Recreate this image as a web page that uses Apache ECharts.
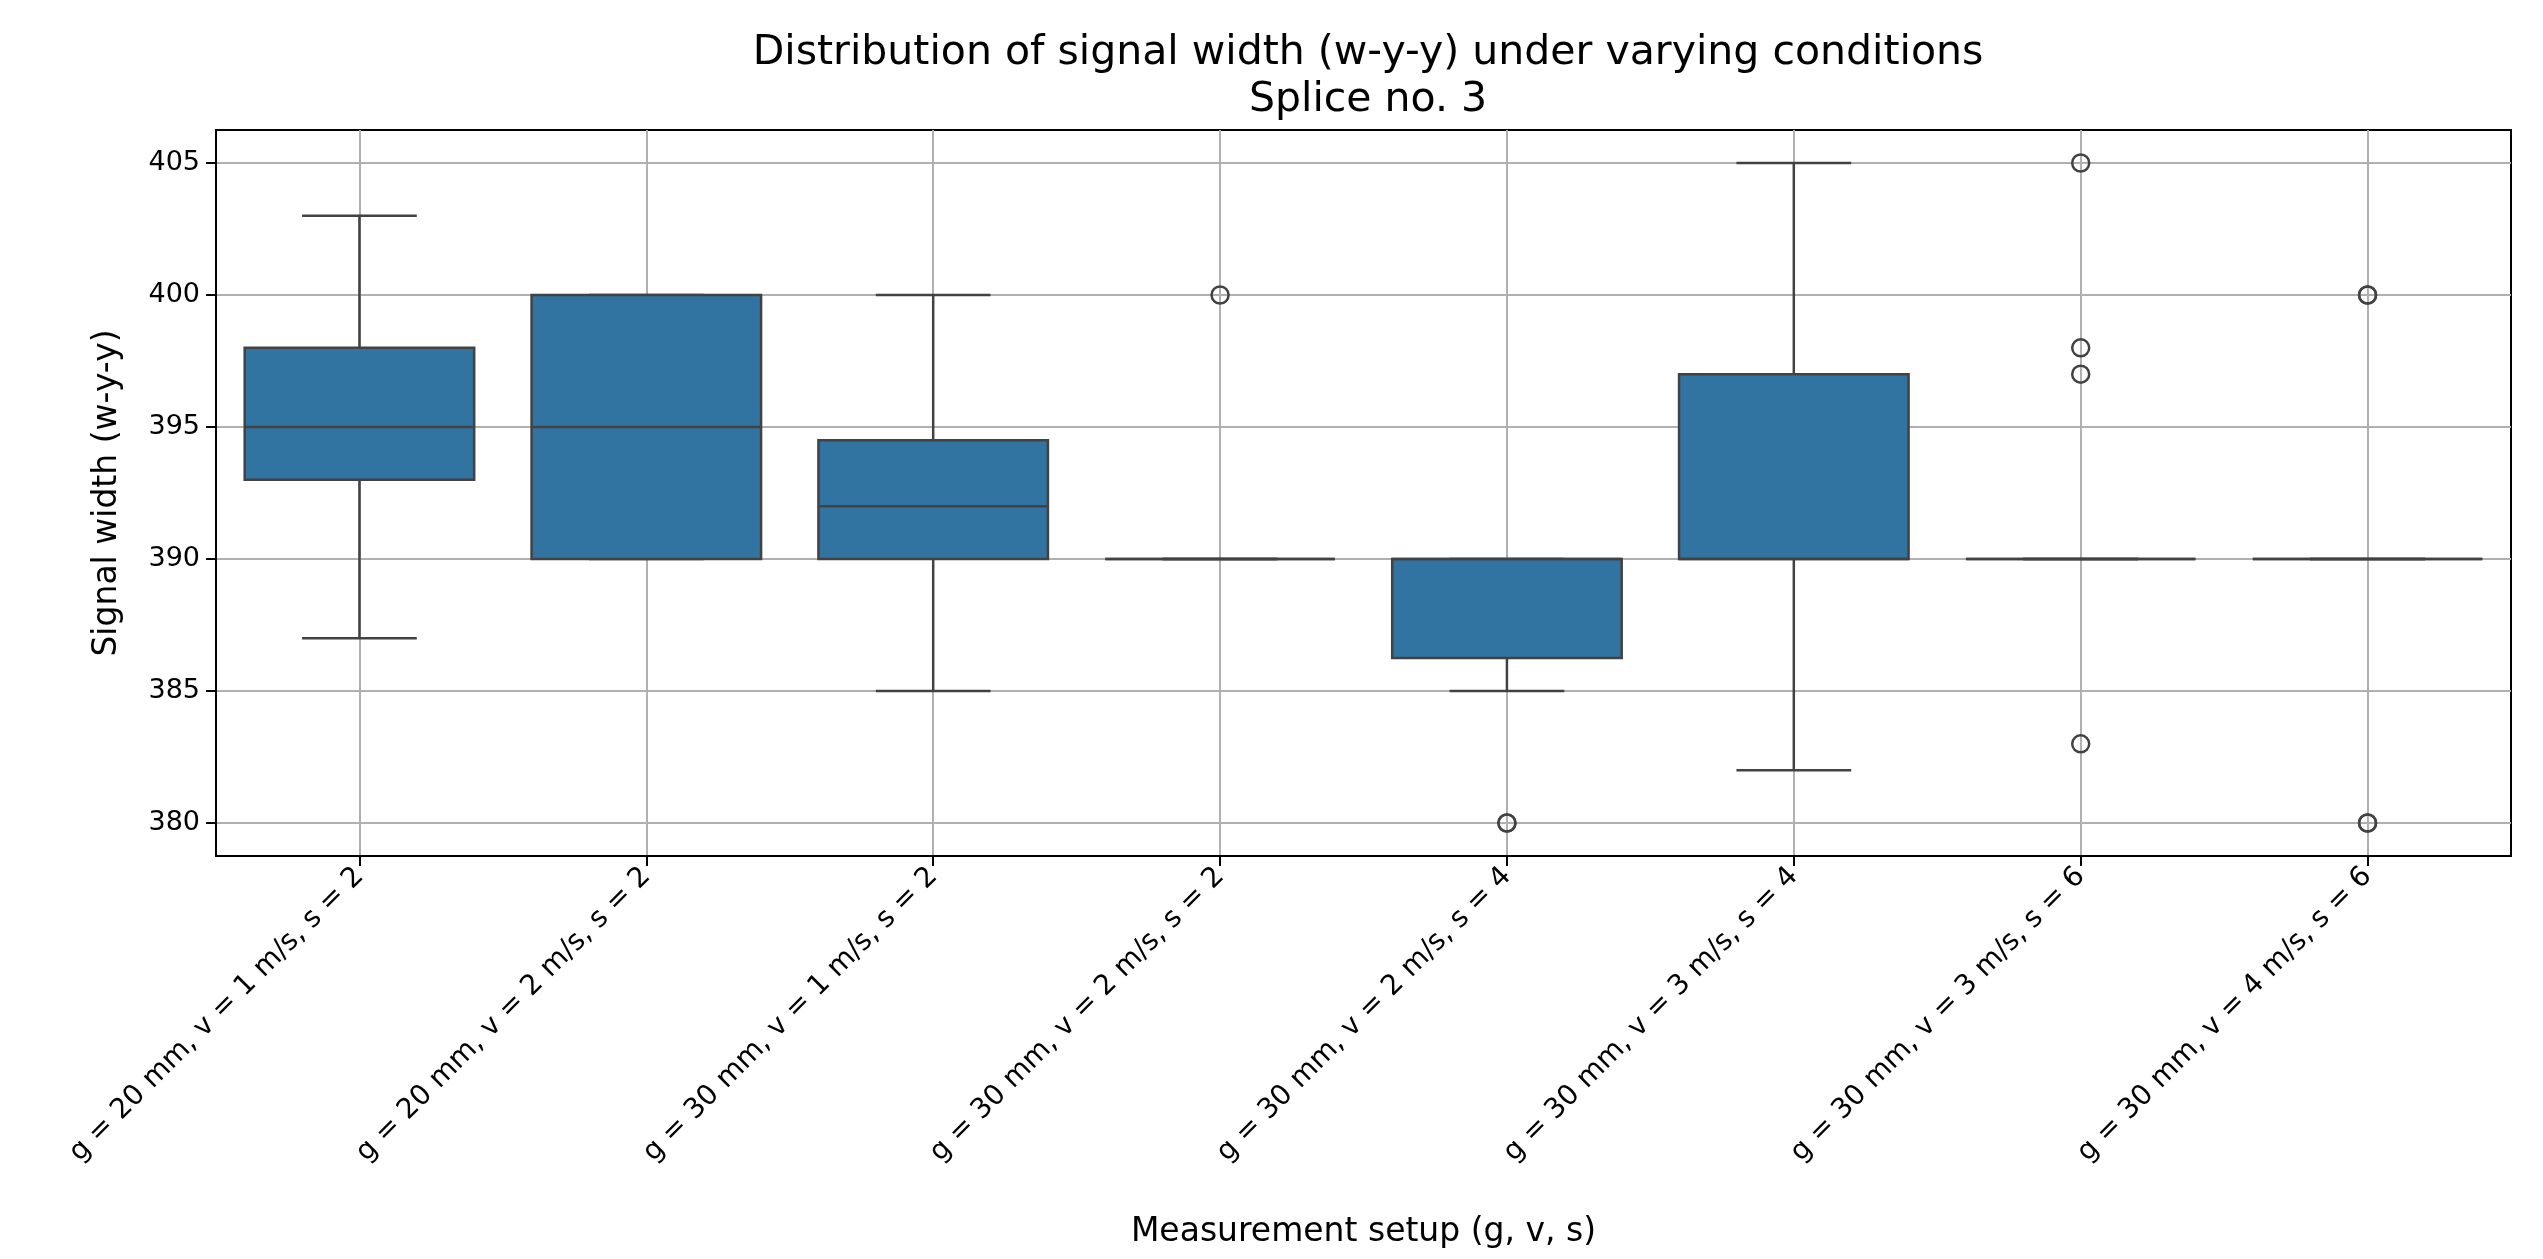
<!DOCTYPE html>
<html><head><meta charset="utf-8">
<script src="https://cdn.jsdelivr.net/npm/echarts@6/dist/echarts.min.js"></script>
<style>html,body{margin:0;padding:0;background:#fff}#c{width:2543px;height:1259px}</style>
</head><body><div id="c"></div>
<script>
const categories = [
  'g = 20 mm, v = 1 m/s, s = 2',
  'g = 20 mm, v = 2 m/s, s = 2',
  'g = 30 mm, v = 1 m/s, s = 2',
  'g = 30 mm, v = 2 m/s, s = 2',
  'g = 30 mm, v = 2 m/s, s = 4',
  'g = 30 mm, v = 3 m/s, s = 4',
  'g = 30 mm, v = 3 m/s, s = 6',
  'g = 30 mm, v = 4 m/s, s = 6'
];
const whiskerLow  = [387, 390, 385,   390, 385,    382, 390, 390];
const quartile1   = [393, 390, 390,   390, 386.25, 390, 390, 390];
const medians     = [395, 395, 392,   390, 390,    390, 390, 390];
const quartile3   = [398, 400, 394.5, 390, 390,    397, 390, 390];
const whiskerHigh = [403, 400, 400,   390, 390,    405, 390, 390];
// outliers: [category index, value]
const outliers = [
  [3, 400],
  [4, 380], [4, 380],
  [6, 405], [6, 398], [6, 397], [6, 383],
  [7, 400], [7, 400], [7, 380], [7, 380]
];
const yTicks = [380, 385, 390, 395, 400, 405];

const FONT = 'DejaVu Sans';
const EDGE = '#424242';
const FILL = '#3274a1';

const boxData = categories.map((c, i) => [i, whiskerLow[i], quartile1[i], medians[i], quartile3[i], whiskerHigh[i]]);

function renderBox(params, api) {
  const x = api.value(0);
  const pLo = api.coord([x, api.value(1)]);
  const pQ1 = api.coord([x, api.value(2)]);
  const pMed = api.coord([x, api.value(3)]);
  const pQ3 = api.coord([x, api.value(4)]);
  const pHi = api.coord([x, api.value(5)]);
  const band = api.size([1, 0])[0];
  const bw = band * 0.8, cw = band * 0.4;
  const cx = pLo[0];
  const ls = {stroke: EDGE, lineWidth: 2.5};
  return {
    type: 'group',
    children: [
      {type: 'line', shape: {x1: cx, y1: pLo[1], x2: cx, y2: pQ1[1]}, style: ls},
      {type: 'line', shape: {x1: cx, y1: pQ3[1], x2: cx, y2: pHi[1]}, style: ls},
      {type: 'line', shape: {x1: cx - cw / 2, y1: pLo[1], x2: cx + cw / 2, y2: pLo[1]}, style: ls},
      {type: 'line', shape: {x1: cx - cw / 2, y1: pHi[1], x2: cx + cw / 2, y2: pHi[1]}, style: ls},
      {type: 'rect', shape: {x: cx - bw / 2, y: pQ3[1], width: bw, height: pQ1[1] - pQ3[1]},
        style: {fill: FILL, stroke: EDGE, lineWidth: 2.5}},
      {type: 'line', shape: {x1: cx - bw / 2, y1: pMed[1], x2: cx + bw / 2, y2: pMed[1]}, style: ls}
    ]
  };
}

const chart = echarts.init(document.getElementById('c'));
chart.setOption({
  animation: false,
  backgroundColor: '#fff',
  textStyle: {fontFamily: FONT},
  title: {
    text: 'Distribution of signal width (w-y-y) under varying conditions\nSplice no. 3',
    left: 1363, top: 25, textAlign: 'center',
    textStyle: {fontFamily: FONT, fontSize: 41, fontWeight: 'normal', color: '#000', lineHeight: 47}
  },
  grid: {left: 216, right: 32, top: 130, bottom: 403, show: true, borderColor: '#000', borderWidth: 2, containLabel: false},
  xAxis: {
    type: 'category', data: categories, boundaryGap: true,
    name: 'Measurement setup (g, v, s)', nameLocation: 'middle', nameGap: 360,
    nameTextStyle: {fontFamily: FONT, fontSize: 33, color: '#000'},
    axisLine: {show: true, lineStyle: {color: '#000', width: 2}},
    axisTick: {show: true, alignWithLabel: true, length: 10, lineStyle: {color: '#000', width: 2}},
    axisLabel: {rotate: 45, fontFamily: FONT, fontSize: 28, color: '#000', margin: 16, interval: 0},
    splitLine: {show: true, alignWithLabel: true, interval: 0, lineStyle: {color: '#b0b0b0', width: 2}}
  },
  yAxis: {
    type: 'value', min: 378.75, max: 406.25,
    name: 'Signal width (w-y-y)', nameLocation: 'middle', nameGap: 92, nameRotate: 90,
    nameTextStyle: {fontFamily: FONT, fontSize: 33, color: '#000'},
    axisLine: {show: true, lineStyle: {color: '#000', width: 2}},
    axisTick: {show: true, length: 10, customValues: yTicks, lineStyle: {color: '#000', width: 2}},
    axisLabel: {fontFamily: FONT, fontSize: 27, color: '#000', margin: 16, customValues: yTicks},
    splitLine: {show: true, lineStyle: {color: '#b0b0b0', width: 2}}
  },
  series: [
    {type: 'custom', renderItem: renderBox, data: boxData, encode: {x: 0, y: [1, 2, 3, 4, 5]}, z: 3},
    {type: 'scatter', data: outliers, symbol: 'circle', symbolSize: 17, z: 4,
      itemStyle: {color: 'rgba(255,255,255,0)', borderColor: EDGE, borderWidth: 2.5, opacity: 1}}
  ]
});
</script></body></html>
